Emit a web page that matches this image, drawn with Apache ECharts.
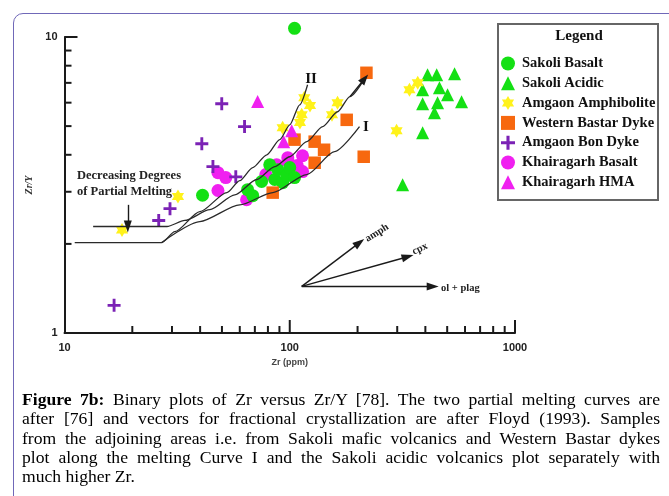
<!DOCTYPE html>
<html><head><meta charset="utf-8">
<script src="https://cdn.jsdelivr.net/npm/echarts@6/dist/echarts.min.js"></script>
<style>
html,body{margin:0;padding:0;width:669px;height:496px;overflow:hidden;background:#fff;}
#card{position:absolute;left:13px;top:13px;width:720px;height:600px;border:1.5px solid #7068b8;border-radius:10px;box-sizing:border-box;}
#chart{position:absolute;left:0;top:0;width:669px;height:496px;}
#cap{position:absolute;left:22px;top:390px;width:638px;font-family:"Liberation Serif","Times New Roman",serif;font-size:17.6px;line-height:19.3px;color:#000;}
#cap div{text-align:justify;text-align-last:justify;white-space:nowrap;}
#cap div.last{text-align-last:left;}
</style>
</head><body>
<div id="card"></div>
<div id="chart"></div>
<div id="cap">
<div><b>Figure 7b:</b> Binary plots of Zr versus Zr/Y [78]. The two partial melting curves are</div>
<div>after [76] and vectors for fractional crystallization are after Floyd (1993). Samples</div>
<div>from the adjoining areas i.e. from Sakoli mafic volcanics and Western Bastar dykes</div>
<div>plot along the melting Curve I and the Sakoli acidic volcanics plot separately with</div>
<div class="last">much higher Zr.</div>
</div>
<script>
// ---------- data ----------
const seriesNames = ['Sakoli Basalt','Sakoli Acidic','Amgaon Amphibolite','Western Bastar Dyke','Amgaon Bon Dyke','Khairagarh Basalt','Khairagarh HMA'];
const sakoliBasalt = [[41,2.92],[65,3.05],[68.5,2.91],[75,3.25],[81.5,3.70],[85.8,3.30],[88.5,3.56],[93,3.22],[97,3.40],[100,3.62],[105,3.35],[105,10.7]];
const sakoliAcidic = [[409,7.46],[449,7.46],[539,7.52],[389,6.64],[462,6.74],[502,6.38],[579,6.04],[389,5.95],[453,6.0],[439,5.55],[389,4.75],[317,3.17]];
const amgaonAmphibolite = [[18,2.23],[31.9,2.89],[93,4.94],[111,5.14],[113,5.46],[116,6.24],[123,5.87],[154,5.46],[163,6.0],[298,4.82],[340,6.64],[370,7.01]];
const westernBastarDyke = [[84,2.98],[105,4.50],[129,4.43],[142,4.16],[129,3.76],[179,5.25],[213,3.94],[219,7.57]];
const amgaonBonDyke = [[16.6,1.24],[26.2,2.40],[29.4,2.63],[40.7,4.36],[45.6,3.65],[49.9,5.95],[57.6,3.37],[63,4.98]];
const khairagarhBasalt = [[48,3.48],[52,3.35],[48,3.03],[64.3,2.82],[78.3,3.43],[87.5,3.70],[98,3.91],[99,3.76],[108,3.68],[114,3.97],[114,3.51]];
const khairagarhHMA = [[72,6.05],[94,4.43],[102,4.82]];

const curveII = [[11.1,2.02],[27.0,2.02],[30.9,2.20],[39.9,2.57],[52.6,2.98],[60.0,3.27],[68.5,3.62],[79.1,4.00],[90.3,4.50],[100,5.05],[110.7,5.90],[120,6.90]];
const curveMid = [[13.4,2.29],[28.5,2.29],[34.2,2.40],[44.2,2.61],[57.0,2.93],[71.4,3.30],[85.8,3.65],[100,3.94],[119,4.43],[140,4.98],[163,5.59],[185,6.29],[215,7.23]];
const curveI = [[27.0,2.02],[39.9,2.38],[60,2.71],[84.1,2.98],[119,3.43],[158,4.10],[204,4.98]];
const meltArrow = [[19.1,2.71],[19.1,2.29]];
const vectorOrigin = [113,1.437];
const vectorNames = ['amph','cpx','ol + plag'];
const vectorEnds = [[204,2.02],[334,1.81],[431,1.437]];

const xMinorTicks = [20,30,40,50,60,70,80,90,200,300,400,500,600,700,800,900];
const xMajorTicks = [100,1000];
const yMinorTicks = [2,3,4,5,6,7,8,9];
const yMajorTicks = [10];

// ---------- chart ----------
const STAR = 'path://M0 -100L29 -50L87 -50L58 0L87 50L29 50L0 100L-29 50L-87 50L-58 0L-87 -50L-29 -50Z';
const PLUS = 'path://M39 0H61V39H100V61H61V100H39V61H0V39H39Z';
const SERIF = '"Liberation Serif","Times New Roman",serif';
const SANS = '"Liberation Sans",Arial,sans-serif';
const INK = '#1a1a1a';

function scatter(name, data, symbol, size, color) {
  return {name, type:'scatter', data, symbol, symbolSize:size, symbolKeepAspect:true,
    itemStyle:{color, opacity:1}, clip:false, z:2, silent:true};
}
function curve(data) {
  return {type:'line', data, symbol:'none', smooth:0.25, smoothMonotone:'x', z:4, silent:true,
    lineStyle:{color:'#2a2a2a', width:1.3}};
}
const arrowLine = {type:'solid', color:INK, width:1.4};

const tickData = [].concat(
  xMinorTicks.map(v=>[v,1,7,0]), xMajorTicks.map(v=>[v,1,13,0]),
  yMinorTicks.map(v=>[10,v,7,1]), yMajorTicks.map(v=>[10,v,13,1]));

const chart = echarts.init(document.getElementById('chart'));
chart.setOption({
  animation:false,
  grid:{left:64.5, right:154, top:37, bottom:163},
  xAxis:{type:'log', logBase:10, min:10, max:1000,
    axisLine:{show:true, onZero:false, lineStyle:{color:INK, width:2}},
    axisTick:{show:false}, splitLine:{show:false}, minorTick:{show:false},
    axisLabel:{fontFamily:SANS, fontWeight:'bold', fontSize:11, color:'#222', margin:9, formatter:v=>String(Math.round(v))},
    name:'Zr (ppm)', nameLocation:'middle', nameGap:24,
    nameTextStyle:{fontFamily:SANS, fontWeight:'bold', fontSize:9, color:'#444'}},
  yAxis:{type:'log', logBase:10, min:1, max:10,
    axisLine:{show:true, onZero:false, lineStyle:{color:INK, width:2}},
    axisTick:{show:false}, splitLine:{show:false},
    axisLabel:{fontFamily:SANS, fontWeight:'bold', fontSize:11, color:'#222', margin:7, formatter:v=>String(Math.round(v))},
    name:'Zr/Y', nameLocation:'middle', nameGap:22, nameRotate:90,
    nameTextStyle:{fontFamily:SERIF, fontWeight:'bold', fontStyle:'italic', fontSize:10, color:'#333'}},
  legend:{orient:'vertical', left:496, top:51, itemWidth:14, itemHeight:14, itemGap:4.8,
    selectedMode:false, data:seriesNames,
    textStyle:{fontFamily:SERIF, fontWeight:'bold', fontSize:14.5, color:'#111', padding:[0,0,0,2]}},
  graphic:[
    {type:'rect', shape:{x:498, y:24, width:160, height:176}, style:{fill:'none', stroke:'#666', lineWidth:2}, silent:true},
    {type:'text', x:579, y:36, style:{text:'Legend', font:'bold 15px '+SERIF, fill:'#111', textAlign:'center', textVerticalAlign:'middle'}},
    {type:'text', x:311, y:79, style:{text:'II', font:'bold 15px '+SERIF, fill:'#111', textAlign:'center', textVerticalAlign:'middle'}},
    {type:'text', x:366, y:127, style:{text:'I', font:'bold 15px '+SERIF, fill:'#111', textAlign:'center', textVerticalAlign:'middle'}},
    {type:'text', x:77, y:176, style:{text:'Decreasing Degrees', font:'bold 12.5px '+SERIF, fill:'#222', textAlign:'left', textVerticalAlign:'middle'}},
    {type:'text', x:77, y:192, style:{text:'of Partial Melting', font:'bold 12.5px '+SERIF, fill:'#222', textAlign:'left', textVerticalAlign:'middle'}},
    {type:'text', x:377, y:233, rotation:0.56, style:{text:vectorNames[0], font:'bold 10.5px '+SERIF, fill:'#222', textAlign:'center', textVerticalAlign:'middle'}},
    {type:'text', x:420, y:249, rotation:0.45, style:{text:vectorNames[1], font:'bold 10.5px '+SERIF, fill:'#222', textAlign:'center', textVerticalAlign:'middle'}},
    {type:'text', x:441, y:288, style:{text:vectorNames[2], font:'bold 10.5px '+SERIF, fill:'#222', textAlign:'left', textVerticalAlign:'middle'}}
  ],
  series:[
    scatter(seriesNames[5], khairagarhBasalt, 'circle', 13, '#f020f0'),
    scatter(seriesNames[0], sakoliBasalt, 'circle', 13, '#14e014'),
    scatter(seriesNames[1], sakoliAcidic, 'triangle', 13, '#14e014'),
    scatter(seriesNames[2], amgaonAmphibolite, STAR, 14, '#fff21a'),
    scatter(seriesNames[3], westernBastarDyke, 'rect', 12.5, '#f7680f'),
    scatter(seriesNames[4], amgaonBonDyke, PLUS, 13, '#7b22b5'),
    scatter(seriesNames[6], khairagarhHMA, 'triangle', 13, '#f020f0'),
    curve(curveII),
    curve(curveI),
    Object.assign(curve(curveMid), {
      markLine:{silent:true, symbol:['none','triangle'], symbolSize:[8,11], label:{show:false}, lineStyle:arrowLine,
        data:[[{coord:curveMid[curveMid.length-2]},{coord:curveMid[curveMid.length-1]}]]}
    }),
    {type:'line', data:[], silent:true, z:4,
      markLine:{silent:true, symbol:['none','triangle'], symbolSize:[8,12], label:{show:false}, lineStyle:arrowLine,
        data: vectorEnds.map(e=>[{coord:vectorOrigin},{coord:e}]).concat([[{coord:meltArrow[0]},{coord:meltArrow[1]}]])}
    },
    {type:'custom', silent:true, z:6, clip:false,
      encode:{x:0, y:1},
      renderItem:(params, api)=>{
        const p = api.coord([api.value(0), api.value(1)]);
        const len = api.value(2), dir = api.value(3);
        const shape = dir===0 ? {x1:p[0],y1:p[1],x2:p[0],y2:p[1]-len} : {x1:p[0],y1:p[1],x2:p[0]+len,y2:p[1]};
        return {type:'line', shape, style:{stroke:INK, lineWidth:2}};
      },
      data: tickData}
  ]
});
</script>
</body></html>
